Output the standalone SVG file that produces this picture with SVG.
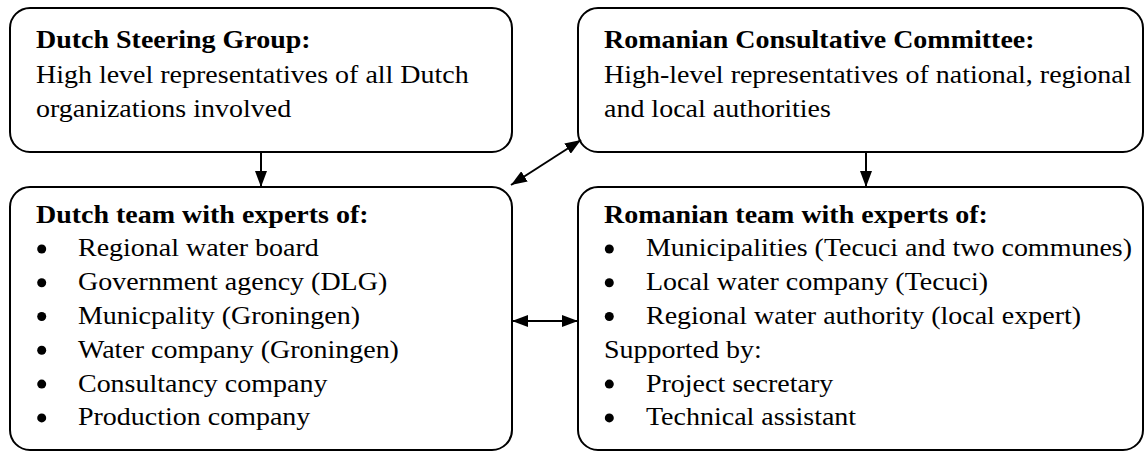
<svg xmlns="http://www.w3.org/2000/svg" width="1145" height="453" viewBox="0 0 1145 453">
<style>
.box{fill:#fff;stroke:#000;stroke-width:2}
.t{font-family:"Liberation Serif","Times New Roman",serif;font-size:26px;fill:#000}
.b{font-weight:bold}
.c{stroke:#000;stroke-width:2;fill:none}
.dot{fill:#000}
</style>
<defs>
<marker id="a" viewBox="0 0 16 12" refX="16" refY="6" markerWidth="16" markerHeight="12" markerUnits="userSpaceOnUse" orient="auto-start-reverse">
<path d="M0,0 L16,6 L0,12 z" fill="#000"/>
</marker>
</defs>
<g id="dutch-steering">
<rect class="box" x="10" y="8" width="502" height="144" rx="20"/>
<g transform="scale(1.077 1)" class="t">
<text class="b" x="33.4" y="48">Dutch Steering Group:</text>
<text x="33.4" y="83">High level representatives of all Dutch</text>
<text x="33.4" y="117">organizations involved</text>
</g>
</g>
<g id="romanian-committee">
<rect class="box" x="578" y="8" width="565" height="144" rx="20"/>
<g transform="scale(1.077 1)" class="t">
<text class="b" x="560.8" y="48">Romanian Consultative Committee:</text>
<text x="560.8" y="83">High-level representatives of national, regional</text>
<text x="560.8" y="117">and local authorities</text>
</g>
</g>
<g id="dutch-team">
<rect class="box" x="10" y="187" width="502" height="263" rx="20"/>
<g transform="scale(1.077 1)" class="t">
<text class="b" x="33.4" y="223">Dutch team with experts of:</text>
<text x="72.4" y="256.5">Regional water board</text>
<text x="72.4" y="290.3">Government agency (DLG)</text>
<text x="72.4" y="324">Municpality (Groningen)</text>
<text x="72.4" y="357.8">Water company (Groningen)</text>
<text x="72.4" y="391.6">Consultancy company</text>
<text x="72.4" y="425.4">Production company</text>
</g>
<circle class="dot" cx="41.7" cy="249" r="4.5"/>
<circle class="dot" cx="41.7" cy="282.8" r="4.5"/>
<circle class="dot" cx="41.7" cy="316.5" r="4.5"/>
<circle class="dot" cx="41.7" cy="350.3" r="4.5"/>
<circle class="dot" cx="41.7" cy="384.1" r="4.5"/>
<circle class="dot" cx="41.7" cy="417.9" r="4.5"/>
</g>
<g id="romanian-team">
<rect class="box" x="578" y="187" width="565" height="263" rx="20"/>
<g transform="scale(1.077 1)" class="t">
<text class="b" x="560.8" y="223">Romanian team with experts of:</text>
<text x="599.8" y="256.5">Municipalities (Tecuci and two communes)</text>
<text x="599.8" y="290.3">Local water company (Tecuci)</text>
<text x="599.8" y="324">Regional water authority (local expert)</text>
<text x="560.8" y="357.8">Supported by:</text>
<text x="599.8" y="391.6">Project secretary</text>
<text x="599.8" y="425.4">Technical assistant</text>
</g>
<circle class="dot" cx="609.3" cy="249" r="4.5"/>
<circle class="dot" cx="609.3" cy="282.8" r="4.5"/>
<circle class="dot" cx="609.3" cy="316.5" r="4.5"/>
<circle class="dot" cx="609.3" cy="384.1" r="4.5"/>
<circle class="dot" cx="609.3" cy="417.9" r="4.5"/>
</g>
<g id="connectors">
<line class="c" x1="261" y1="152" x2="261" y2="187" marker-end="url(#a)"/>
<line class="c" x1="866" y1="152" x2="866" y2="187" marker-end="url(#a)"/>
<line class="c" x1="511" y1="185" x2="581" y2="140" marker-start="url(#a)" marker-end="url(#a)"/>
<line class="c" x1="512" y1="321" x2="578" y2="321" marker-start="url(#a)" marker-end="url(#a)"/>
</g>
</svg>
